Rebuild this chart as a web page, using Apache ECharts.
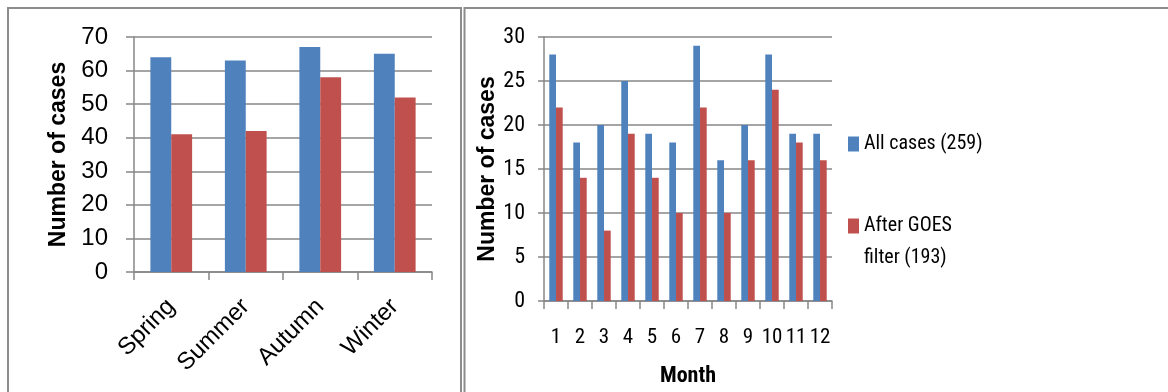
<!DOCTYPE html>
<html><head><meta charset="utf-8">
<script src="https://cdn.jsdelivr.net/npm/echarts@6/dist/echarts.min.js"></script>
<style>html,body{margin:0;padding:0;background:#fff}#c{width:1168px;height:392px}</style>
</head><body><div id="c"></div>
<script>
// ---- data ----
const seasons = ['Spring', 'Summer', 'Autumn', 'Winter'];
const seasonAll = [64, 63, 67, 65];
const seasonFiltered = [41, 42, 58, 52];
const months = ['1', '2', '3', '4', '5', '6', '7', '8', '9', '10', '11', '12'];
const monthAll = [28, 18, 20, 25, 19, 18, 29, 16, 20, 28, 19, 19];
const monthFiltered = [22, 14, 8, 19, 14, 10, 22, 10, 16, 24, 18, 16];
const seriesNames = ['All cases (259)', 'After GOES filter (193)'];
const legendLabels = ['All cases (259)', 'After GOES\nfilter (193)'];
const seasonAxis = { min: 0, max: 70, interval: 10 };
const monthAxis = { min: 0, max: 30, interval: 5 };
const yName = 'Number of cases';
const xNameRight = 'Month';

// ---- styles ----
const BLUE = '#4F81BD', RED = '#C0504D', GRID = '#878787';
const SANS = 'Liberation Sans';
const NARROW = 'Roboto Condensed';

const chart = echarts.init(document.getElementById('c'), null, { renderer: 'canvas' });

function yAxis(gridIndex, ax, font, fontSize, margin, nameGap, tickLen) {
  return {
    type: 'value', gridIndex, min: ax.min, max: ax.max, interval: ax.interval,
    name: yName, nameLocation: 'middle', nameGap,
    nameTextStyle: { fontFamily: SANS, fontWeight: 'bold', fontSize: 23, color: '#000' },
    axisLine: { show: true, lineStyle: { color: GRID, width: 1.5 } },
    axisTick: { show: true, length: tickLen, lineStyle: { color: GRID, width: 1.5 } },
    axisLabel: { fontFamily: font, fontSize, color: '#000', margin },
    splitLine: { show: true, lineStyle: { color: GRID, width: 1.5 } }
  };
}

const option = {
  animation: false,
  backgroundColor: '#fff',
  grid: [
    { left: 134, top: 37, width: 298, height: 235 },
    { left: 544, top: 37, width: 288, height: 265 }
  ],
  xAxis: [
    {
      type: 'category', gridIndex: 0, data: seasons,
      axisLine: { lineStyle: { color: GRID, width: 1.5 } },
      axisTick: { show: true, length: 8, lineStyle: { color: GRID, width: 1.5 } },
      axisLabel: { rotate: 45, fontFamily: SANS, fontSize: 24, color: '#000', margin: 31 }
    },
    {
      type: 'category', gridIndex: 1, data: months,
      name: xNameRight, nameLocation: 'middle', nameGap: 64,
      nameTextStyle: { fontFamily: NARROW, fontWeight: 'bold', fontSize: 22, color: '#000' },
      axisLine: { lineStyle: { color: GRID, width: 1.5 } },
      axisTick: { show: true, length: 8, lineStyle: { color: GRID, width: 1.5 } },
      axisLabel: { fontFamily: NARROW, fontSize: 21, color: '#000', margin: 26, interval: 0 }
    }
  ],
  yAxis: [
    yAxis(0, seasonAxis, SANS, 24, 26, 64, 8),
    yAxis(1, monthAxis, NARROW, 22, 19, 39, 6)
  ],
  legend: [
    {
      data: [seriesNames[0]], orient: 'vertical', left: 848, top: 134, padding: 0,
      itemWidth: 11, itemHeight: 15, icon: 'rect',
      formatter: () => legendLabels[0],
      textStyle: { fontFamily: NARROW, fontSize: 20, color: '#000' }
    },
    {
      data: [seriesNames[1]], orient: 'vertical', left: 848, top: 178, padding: 0,
      itemWidth: 11, itemHeight: 15, icon: 'rect',
      formatter: () => '\n' + legendLabels[1],
      textStyle: { fontFamily: NARROW, fontSize: 20, color: '#000', lineHeight: 32 }
    }
  ],
  series: [
    { name: seriesNames[0], type: 'bar', xAxisIndex: 0, yAxisIndex: 0, data: seasonAll,
      itemStyle: { color: BLUE }, barGap: '0%', barCategoryGap: '44%' },
    { name: seriesNames[1], type: 'bar', xAxisIndex: 0, yAxisIndex: 0, data: seasonFiltered,
      itemStyle: { color: RED }, barGap: '0%', barCategoryGap: '44%' },
    { name: seriesNames[0], type: 'bar', xAxisIndex: 1, yAxisIndex: 1, data: monthAll,
      itemStyle: { color: BLUE }, barGap: '0%', barCategoryGap: '44%' },
    { name: seriesNames[1], type: 'bar', xAxisIndex: 1, yAxisIndex: 1, data: monthFiltered,
      itemStyle: { color: RED }, barGap: '0%', barCategoryGap: '44%' }
  ],
  graphic: [
    { type: 'line', shape: { x1: 8, y1: 8, x2: 8, y2: 392 }, style: { stroke: '#8c8c8c', lineWidth: 2 } },
    { type: 'line', shape: { x1: 7, y1: 8, x2: 461, y2: 8 }, style: { stroke: '#8c8c8c', lineWidth: 2 } },
    { type: 'line', shape: { x1: 461, y1: 7, x2: 461, y2: 392 }, style: { stroke: '#8c8c8c', lineWidth: 2 } },
    { type: 'line', shape: { x1: 464.5, y1: 7, x2: 464.5, y2: 392 }, style: { stroke: '#8c8c8c', lineWidth: 2 } },
    { type: 'line', shape: { x1: 464, y1: 8, x2: 1168, y2: 8 }, style: { stroke: '#8c8c8c', lineWidth: 2 } }
  ]
};
chart.setOption(option);
</script>
</body></html>
